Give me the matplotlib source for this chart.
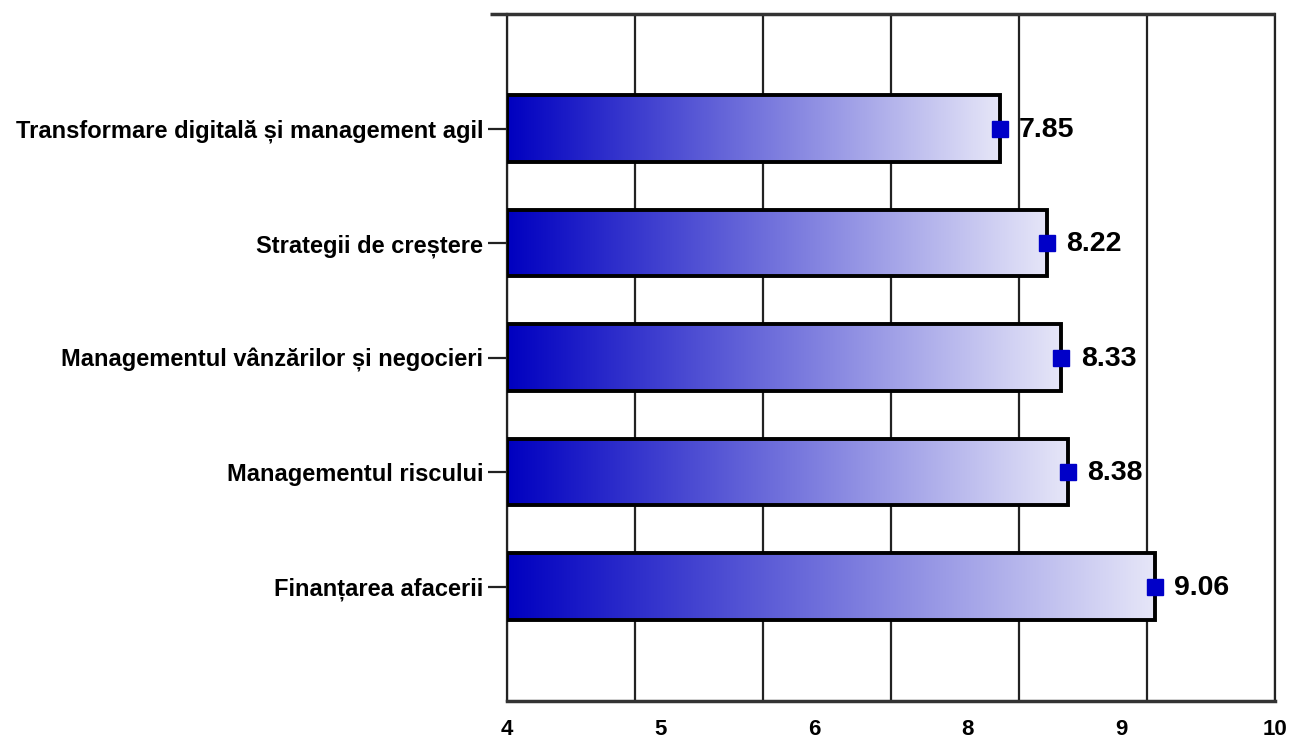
import numpy as np
import matplotlib
matplotlib.use("Agg")
import matplotlib.pyplot as plt
from matplotlib.colors import LinearSegmentedColormap

categories = [
    "Transformare digitală și management agil",
    "Strategii de creștere",
    "Managementul vânzărilor și negocieri",
    "Managementul riscului",
    "Finanțarea afacerii",
]
values = [7.85, 8.22, 8.33, 8.38, 9.06]
x_min, x_max = 4, 10
tick_labels = ["4", "5", "6", "8", "9", "10"]

plt.rcParams['font.family'] = ['Liberation Sans', 'DejaVu Sans']
plt.rcParams['font.weight'] = 'bold'

fig = plt.figure(figsize=(12.91, 7.42), dpi=100)
ax = fig.add_axes([507/1291, 1-701/742, (1275-507)/1291, (701-14)/742])

cmap = LinearSegmentedColormap.from_list("g", ["#0000C0", "#E6E6F8"])
grad = np.linspace(0, 1, 256).reshape(1, -1)
ypos = np.arange(len(categories))
h = 0.58

# gridlines at integers
for gx in range(x_min, x_max + 1):
    ax.axvline(gx, color="#222222", lw=1.6, zorder=0)

for y, v in zip(ypos, values):
    ax.imshow(grad, extent=[x_min, v, y + h/2, y - h/2], aspect='auto',
              cmap=cmap, zorder=2, interpolation='bilinear')
    ax.barh(y, v - x_min, left=x_min, height=h, facecolor='none',
            edgecolor='black', linewidth=2.8, zorder=3)
    ax.plot(v, y, marker='s', color='#0000C8', markersize=11, zorder=4, clip_on=False)
    ax.annotate(f"{v:.2f}", (v, y), xytext=(14, -1), textcoords='offset points',
                va='center', ha='left', fontsize=20.5, fontweight='bold', color='black', zorder=5)

ax.set_xlim(x_min, x_max)
ax.set_ylim(len(categories), -1)
ax.set_yticks(ypos)
ax.set_yticklabels(categories, fontsize=17, fontweight='bold')
ax.set_xticks(np.linspace(x_min, x_max, len(tick_labels)))
ax.set_xticklabels(tick_labels, fontsize=16, fontweight='bold')
ax.tick_params(axis='x', length=0, pad=13)
ax.tick_params(axis='y', length=14, width=1.6, pad=3, color='#222222')

for s in ['left', 'right']:
    ax.spines[s].set_linewidth(1.6)
    ax.spines[s].set_color('#222222')
ax.spines['top'].set_visible(False)
ax.spines['bottom'].set_linewidth(2.5)
ax.spines['bottom'].set_color('#333333')
ax.plot([-0.022, 1.0], [1, 1], transform=ax.transAxes, color='#333333',
        lw=2.5, clip_on=False, zorder=6, solid_capstyle='butt')

fig.savefig("out.png", dpi=100)
